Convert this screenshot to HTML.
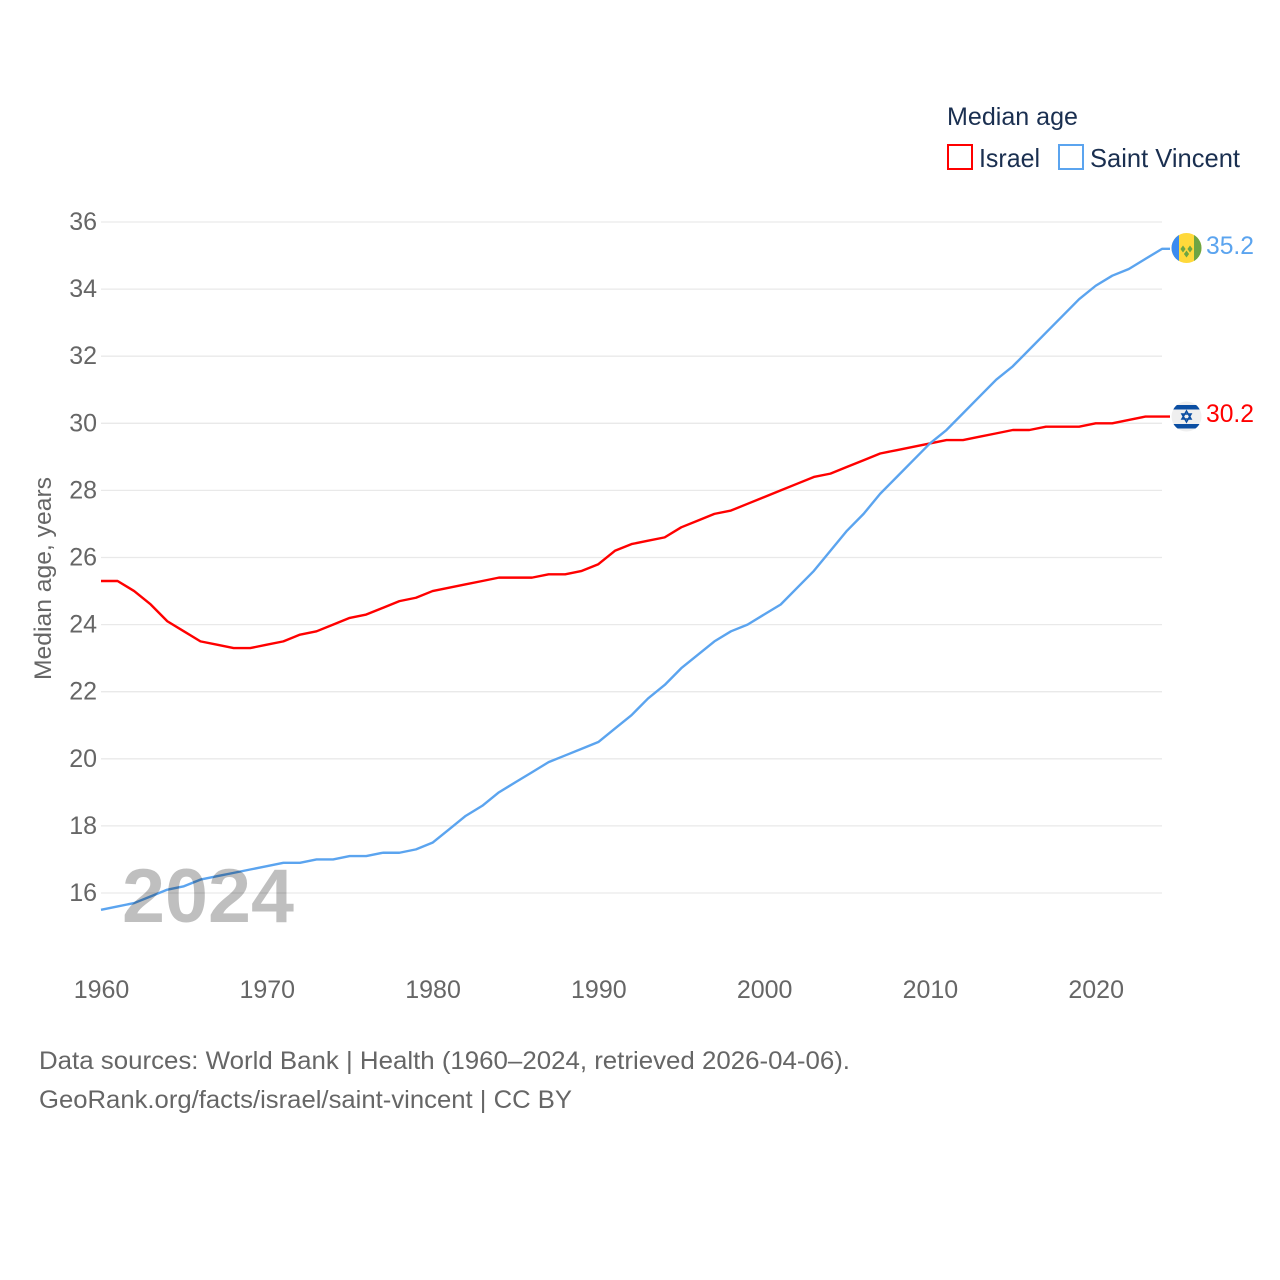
<!DOCTYPE html>
<html lang="en">
<head>
<meta charset="utf-8">
<title>Median age: Israel and Saint Vincent</title>
<style>
html,body{margin:0;padding:0;background:#fff;}
svg{display:block;font-family:"Liberation Sans",sans-serif;}
</style>
</head>
<body>
<svg id="chart" xmlns="http://www.w3.org/2000/svg" width="1280" height="1280" viewBox="0 0 1280 1280">
  <rect width="1280" height="1280" fill="#fff"/>
  <g id="grid"></g>
  <g id="y-ticks"></g>
  <g id="x-ticks"></g>
  <g id="lines"></g>
  <text x="122" y="922" font-size="76" font-weight="700" fill="#000" fill-opacity="0.25" textLength="172" lengthAdjust="spacingAndGlyphs">2024</text>
  <text transform="translate(51,680) rotate(-90)" font-size="24" fill="#666" textLength="203" lengthAdjust="spacingAndGlyphs">Median age, years</text>

  <g>
    <text x="947" y="125" font-size="25" fill="#1a2f50" textLength="131" lengthAdjust="spacingAndGlyphs">Median age</text>
    <rect x="948" y="145" width="24" height="24" fill="#fff" stroke="#ff0000" stroke-width="2"/>
    <text x="979" y="167" font-size="26" fill="#1a2f50" textLength="61" lengthAdjust="spacingAndGlyphs">Israel</text>
    <rect x="1059" y="145" width="24" height="24" fill="#fff" stroke="#5ba4ef" stroke-width="2"/>
    <text x="1090" y="167" font-size="26" fill="#1a2f50" textLength="150" lengthAdjust="spacingAndGlyphs">Saint Vincent</text>
  </g>

  <defs>
    <clipPath id="flag-clip-vc"><circle cx="1186.5" cy="248" r="15"/></clipPath>
    <clipPath id="flag-clip-il"><circle cx="1186.5" cy="416.5" r="15"/></clipPath>
  </defs>
  <g id="flag-saint-vincent" clip-path="url(#flag-clip-vc)">
    <rect x="1171" y="233" width="31" height="31" fill="#ffd93b"/>
    <rect x="1171" y="233" width="8" height="31" fill="#3b8bf0"/>
    <rect x="1194" y="233" width="8" height="31" fill="#6da544"/>
    <path d="M1186.5 250.5l2.6 3.5-2.6 3.5-2.6-3.5zM1183 245.5l2.6 3.5-2.6 3.5-2.6-3.5zM1190 245.5l2.6 3.5-2.6 3.5-2.6-3.5z" fill="#6da544"/>
  </g>
  <g id="flag-israel" clip-path="url(#flag-clip-il)">
    <rect x="1171" y="401" width="31" height="31" fill="#efefef"/>
    <rect x="1171" y="405" width="31" height="4.5" fill="#0b4ea2"/>
    <rect x="1171" y="424" width="31" height="4.5" fill="#0b4ea2"/>
    <path d="M1186.5 411l4.6 8h-9.2zM1186.5 422l-4.6-8h9.2z" fill="none" stroke="#0b4ea2" stroke-width="1.5"/>
  </g>
  <text x="1206" y="254" font-size="25" fill="#5ba4ef" textLength="48" lengthAdjust="spacingAndGlyphs">35.2</text>
  <text x="1206" y="422" font-size="25" fill="#ff0000" textLength="48" lengthAdjust="spacingAndGlyphs">30.2</text>

  <text x="39" y="1069" font-size="25" fill="#666" textLength="811" lengthAdjust="spacingAndGlyphs">Data sources: World Bank | Health (1960–2024, retrieved 2026-04-06).</text>
  <text x="39" y="1108" font-size="25" fill="#666" textLength="533" lengthAdjust="spacingAndGlyphs">GeoRank.org/facts/israel/saint-vincent | CC BY</text>
</svg>
<script>
const years = [1960,1961,1962,1963,1964,1965,1966,1967,1968,1969,1970,1971,1972,1973,1974,1975,1976,1977,1978,1979,1980,1981,1982,1983,1984,1985,1986,1987,1988,1989,1990,1991,1992,1993,1994,1995,1996,1997,1998,1999,2000,2001,2002,2003,2004,2005,2006,2007,2008,2009,2010,2011,2012,2013,2014,2015,2016,2017,2018,2019,2020,2021,2022,2023,2024];
const israelValues = [25.3,25.3,25.0,24.6,24.1,23.8,23.5,23.4,23.3,23.3,23.4,23.5,23.7,23.8,24.0,24.2,24.3,24.5,24.7,24.8,25.0,25.1,25.2,25.3,25.4,25.4,25.4,25.5,25.5,25.6,25.8,26.2,26.4,26.5,26.6,26.9,27.1,27.3,27.4,27.6,27.8,28.0,28.2,28.4,28.5,28.7,28.9,29.1,29.2,29.3,29.4,29.5,29.5,29.6,29.7,29.8,29.8,29.9,29.9,29.9,30.0,30.0,30.1,30.2,30.2];
const saintVincentValues = [15.5,15.6,15.7,15.9,16.1,16.2,16.4,16.5,16.6,16.7,16.8,16.9,16.9,17.0,17.0,17.1,17.1,17.2,17.2,17.3,17.5,17.9,18.3,18.6,19.0,19.3,19.6,19.9,20.1,20.3,20.5,20.9,21.3,21.8,22.2,22.7,23.1,23.5,23.8,24.0,24.3,24.6,25.1,25.6,26.2,26.8,27.3,27.9,28.4,28.9,29.4,29.8,30.3,30.8,31.3,31.7,32.2,32.7,33.2,33.7,34.1,34.4,34.6,34.9,35.2];
const yTickLabels = [16,18,20,22,24,26,28,30,32,34,36];
const xTickLabels = [1960,1970,1980,1990,2000,2010,2020];

const NS = 'http://www.w3.org/2000/svg';
function xScale(year){ return 101 + (year - 1960) * (1162 - 101) / 64; }
function yScale(v){ return 893 - (v - 16) * (893 - 222) / 20; }

const gridG = document.getElementById('grid');
const yG = document.getElementById('y-ticks');
const xG = document.getElementById('x-ticks');
const linesG = document.getElementById('lines');

yTickLabels.forEach(function(t){
  const ln = document.createElementNS(NS,'line');
  
  
  ln.setAttribute('x1', 101);
  ln.setAttribute('x2', 1162);
  ln.setAttribute('y1', yScale(t));
  ln.setAttribute('y2', yScale(t));
  ln.setAttribute('stroke', '#e9e9e9');
  ln.setAttribute('stroke-width', '1.3');
  gridG.appendChild(ln);

  const tx = document.createElementNS(NS,'text');
  
  
  tx.setAttribute('x', 97);
  tx.setAttribute('y', yScale(t) + 8);
  tx.setAttribute('text-anchor', 'end');
  tx.setAttribute('font-size', '25');
  tx.setAttribute('fill', '#666');
  tx.textContent = String(t);
  yG.appendChild(tx);
});

xTickLabels.forEach(function(t){
  const tx = document.createElementNS(NS,'text');
  
  
  tx.setAttribute('x', xScale(t) + 0.5);
  tx.setAttribute('y', 998);
  tx.setAttribute('text-anchor', 'middle');
  tx.setAttribute('font-size', '25');
  tx.setAttribute('fill', '#666');
  tx.textContent = String(t);
  xG.appendChild(tx);
});

function pathFor(values){
  return values.map(function(v,i){
    return (i ? 'L' : 'M') + xScale(years[i]).toFixed(2) + ' ' + yScale(v).toFixed(2);
  }).join('') + 'H1170';
}

const israelLine = document.createElementNS(NS,'path');


israelLine.setAttribute('d', pathFor(israelValues));
israelLine.setAttribute('fill', 'none');
israelLine.setAttribute('stroke', '#ff0000');
israelLine.setAttribute('stroke-width', '2.4');
israelLine.setAttribute('stroke-linejoin', 'round');
linesG.appendChild(israelLine);

const saintVincentLine = document.createElementNS(NS,'path');


saintVincentLine.setAttribute('d', pathFor(saintVincentValues));
saintVincentLine.setAttribute('fill', 'none');
saintVincentLine.setAttribute('stroke', '#5ba4ef');
saintVincentLine.setAttribute('stroke-width', '2.4');
saintVincentLine.setAttribute('stroke-linejoin', 'round');
linesG.appendChild(saintVincentLine);
</script>
</body>
</html>
